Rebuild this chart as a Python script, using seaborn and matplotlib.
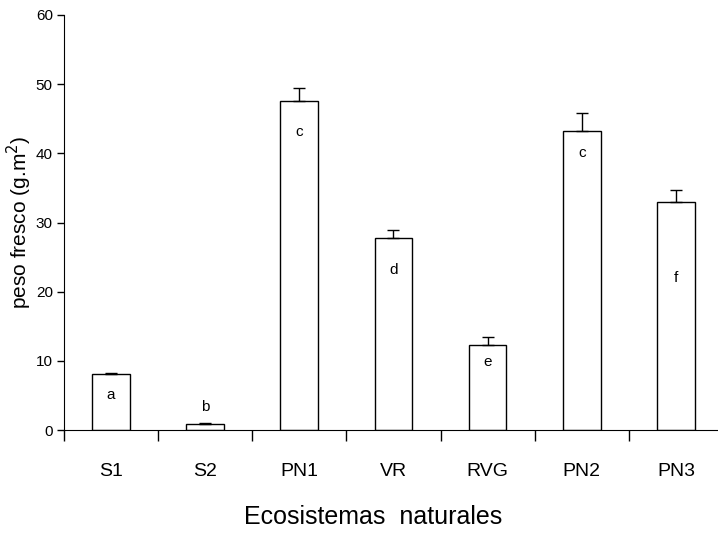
import numpy as np
import pandas as pd
import matplotlib
matplotlib.use("Agg")
import matplotlib.pyplot as plt
import seaborn as sns

# data
sitios = ["S1", "S2", "PN1", "VR", "RVG", "PN2", "PN3"]
peso = [8.1, 0.9, 47.5, 27.8, 12.3, 43.2, 33.0]
error = [0.15, 0.2, 1.9, 1.1, 1.2, 2.6, 1.7]
letras = ["a", "b", "c", "d", "e", "c", "f"]
letra_y = [5.1, 3.3, 43.1, 23.1, 9.8, 40.1, 22.0]

df = pd.DataFrame({"sitio": sitios, "peso": peso})

sns.set_style("ticks")
plt.rcParams["font.family"] = ["Liberation Sans Narrow", "Liberation Sans", "DejaVu Sans"]
plt.rcParams["text.color"] = "black"
plt.rcParams["axes.labelcolor"] = "black"
plt.rcParams["xtick.color"] = "black"
plt.rcParams["ytick.color"] = "black"
plt.rcParams["axes.edgecolor"] = "black"

fig = plt.figure(figsize=(7.18, 5.33), dpi=100)
ax = fig.add_axes([0.089, 0.193, 0.918, 0.779])

sns.barplot(data=df, x="sitio", y="peso", color="white", edgecolor="black",
            linewidth=1.0, width=0.4, ax=ax)
x = np.arange(len(sitios))
ax.errorbar(x, peso, yerr=[np.zeros(len(peso)), error], fmt="none",
            ecolor="black", elinewidth=1.0, capsize=4, capthick=1.0)

for xi, l, ly in zip(x, letras, letra_y):
    ax.text(xi, ly, l, ha="center", va="center", fontsize=11)

ax.set_ylim(0, 60)
ax.set_yticks(range(0, 61, 10))
ax.set_xlim(-0.5, 6.5)
ax.spines["right"].set_visible(False)
ax.spines["top"].set_visible(False)

# boundary ticks below the axis, labels centred without ticks
ax.set_xticks(np.arange(-0.5, 7, 1.0))
ax.set_xticklabels([])
ax.set_xticks(x, minor=True)
ax.set_xticklabels(sitios, minor=True, fontsize=14)
ax.tick_params(axis="x", which="major", length=8, width=1, direction="out")
ax.tick_params(axis="x", which="minor", length=0, pad=24)
ax.tick_params(axis="y", length=5, width=1, labelsize=11, pad=3)

ax.set_xlabel("Ecosistemas  naturales", fontsize=18)
ax.xaxis.set_label_coords(0.469, -0.18)
ax.set_ylabel("peso fresco (g.m$^2$)", fontsize=15)
ax.yaxis.set_label_coords(-0.046, 0.5)

fig.savefig("out.png", dpi=100)
